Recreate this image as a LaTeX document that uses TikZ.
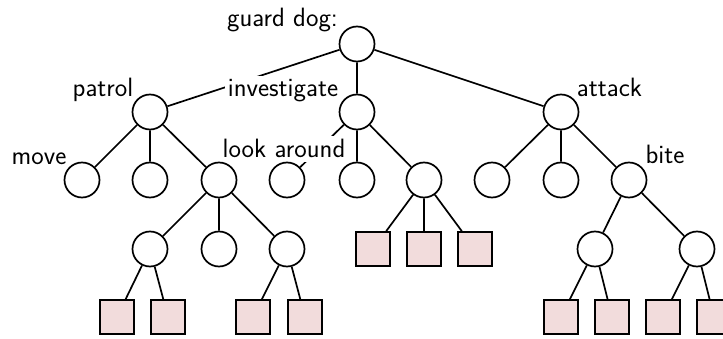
\documentclass[tikz,border=0pt]{standalone}
\usetikzlibrary{backgrounds}
\definecolor{leafpink}{RGB}{242,220,220}
\begin{document}
\begin{tikzpicture}[x=1pt,y=-1pt,
  cnode/.style={circle,draw,line width=1.7pt,fill=white,minimum size=35pt,inner sep=0pt},
  leaf/.style={rectangle,draw,line width=1.7pt,fill=leafpink,minimum size=34pt,inner sep=0pt},
  lbl/.style={font=\sffamily\fontsize{26.5}{31}\selectfont,inner ysep=4pt,inner xsep=3pt,anchor=base},
  wlbl/.style={lbl,fill=white},
  edge/.style={line width=1.7pt}]
\useasboundingbox (0,0) rectangle (723,339);
% labels (drawn first so circles lie above them)
\node[lbl] (lg) at (282.5,27) {guard dog:};
\node[lbl] (lp) at (103,97) {patrol};
\node[wlbl] (li) at (283,97) {investigate};
\node[lbl] (la) at (609.5,96.5) {attack};
\node[lbl] (lm) at (39,165) {move};
\node[wlbl] (ll) at (284,158) {look around};
\node[lbl] (lb) at (665,163.5) {bite};
% nodes
\node[cnode] (r) at (357,44) {};
\node[cnode] (p) at (150,112) {};
\node[cnode] (i) at (357,112) {};
\node[cnode] (a) at (561,112) {};
\node[cnode] (p1) at (82,180) {};
\node[cnode] (p2) at (150,180) {};
\node[cnode] (p3) at (219,180) {};
\node[cnode] (i1) at (287,180) {};
\node[cnode] (i2) at (357,180) {};
\node[cnode] (i3) at (424,180) {};
\node[cnode] (a1) at (492,180) {};
\node[cnode] (a2) at (561,180) {};
\node[cnode] (a3) at (629,180) {};
\node[cnode] (q1) at (150,249) {};
\node[cnode] (q2) at (219,249) {};
\node[cnode] (q3) at (287,249) {};
\node[leaf] (s1) at (373,249) {};
\node[leaf] (s2) at (424,249) {};
\node[leaf] (s3) at (475,249) {};
\node[cnode] (b1) at (595,249) {};
\node[cnode] (b2) at (697,249) {};
\node[leaf] (t1) at (117,317) {};
\node[leaf] (t2) at (168,317) {};
\node[leaf] (t3) at (253,317) {};
\node[leaf] (t4) at (305,317) {};
\node[leaf] (t5) at (561,317) {};
\node[leaf] (t6) at (612,317) {};
\node[leaf] (t7) at (663,317) {};
\node[leaf] (t8) at (714,317) {};
% edges
\begin{pgfonlayer}{background}
\draw[edge] (r) -- (p) (r) -- (i) (r) -- (a);
\draw[edge] (p) -- (p1) (p) -- (p2) (p) -- (p3);
\draw[edge] (i) -- (i1) (i) -- (i2) (i) -- (i3);
\draw[edge] (a) -- (a1) (a) -- (a2) (a) -- (a3);
\draw[edge] (p3) -- (q1) (p3) -- (q2) (p3) -- (q3);
\draw[edge] (i3) -- (s1) (i3) -- (s2) (i3) -- (s3);
\draw[edge] (a3) -- (b1) (a3) -- (b2);
\draw[edge] (q1) -- (t1) (q1) -- (t2);
\draw[edge] (q3) -- (t3) (q3) -- (t4);
\draw[edge] (b1) -- (t5) (b1) -- (t6);
\draw[edge] (b2) -- (t7) (b2) -- (t8);
\end{pgfonlayer}
\end{tikzpicture}
\end{document}
